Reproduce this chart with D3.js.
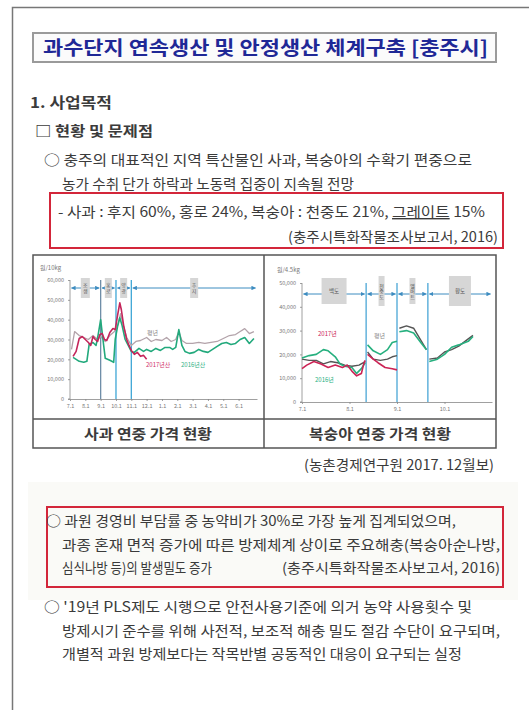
<!DOCTYPE html>
<html><head><meta charset="utf-8">
<script src="https://cdn.jsdelivr.net/npm/d3@7"></script>
<style>
html,body{margin:0;padding:0;background:#fff;}
svg{display:block;}
text{font-family:"Noto Sans CJK KR","Noto Sans",sans-serif;}
</style></head><body>
<svg id="c" width="529" height="710"></svg>
<script>
// ---------- text content ----------
const titleText = "과수단지 연속생산 및 안정생산 체계구축 [충주시]";
const headingText = "1. 사업목적";
const subHeadingText = "□ 현황 및 문제점";
const para1 = ["○ 충주의 대표적인 지역 특산물인 사과, 복숭아의 수확기 편중으로",
               "농가 수취 단가 하락과 노동력 집중이 지속될 전망"];
const boxNote1 = "- 사과 : 후지 60%, 홍로 24%, 복숭아 : 천중도 21%, ";
const boxNote1U = "그레이트";
const boxNote1End = " 15%";
const sourceText = "(충주시특화작물조사보고서, 2016)";
const captions = ["사과 연중 가격 현황", "복숭아 연중 가격 현황"];
const chartSource = "(농촌경제연구원 2017. 12월보)";
const para2 = ["○ 과원 경영비 부담률 중 농약비가 30%로 가장 높게 집계되었으며,",
               "과종 혼재 면적 증가에 따른 방제체계 상이로 주요해충(복숭아순나방,",
               "심식나방 등)의 발생밀도 증가"];
const para3 = ["○ '19년 PLS제도 시행으로 안전사용기준에 의거 농약 사용횟수 및",
               "방제시기 준수를 위해 사전적, 보조적 해충 밀도 절감 수단이 요구되며,",
               "개별적 과원 방제보다는 작목반별 공동적인 대응이 요구되는 실정"];

// ---------- apple chart data (x = months after 7.1) ----------
const appleTickLabels = ["7.1","8.1","9.1","10.1","11.1","12.1","1.1","2.1","3.1","4.1","5.1","6.1"];
const appleYTicks = [0,10000,20000,30000,40000,50000,60000];
const appleStageBounds = [0,2,3,4,12.2];
const appleStageNames = ["조생","홍로","양광","후지"];
const appleBreaks = [2,3,4];
const apple2017 = [[0.2,21500],[0.4,24000],[0.6,30500],[0.8,31500],[1.0,30000],[1.2,28500],[1.35,27000],[1.5,31500],[1.65,30000],[1.8,29000],[1.95,32500],[2.1,33000],[2.25,30000],[2.4,29500],[2.6,33500],[2.8,35500],[2.95,35000],[3.1,42000],[3.25,48500],[3.35,45000],[3.5,37000],[3.7,30000],[3.85,27000],[4.0,24500],[4.2,22500],[4.4,23500],[4.6,21500],[4.8,22000],[5.0,20000]];
const apple2016 = [[0.2,21000],[0.4,20000],[0.6,19000],[0.9,18500],[1.1,19000],[1.25,27500],[1.5,28500],[1.7,27000],[1.85,33000],[2.0,40000],[2.15,30000],[2.3,20500],[2.6,19500],[2.85,18500],[2.95,30000],[3.1,36500],[3.25,41000],[3.4,37000],[3.6,30000],[3.8,27000],[4.0,24000],[4.2,23500],[4.5,25500],[4.8,24000],[5.0,25000],[5.3,24000],[5.6,25500],[5.9,24500],[6.2,26000],[6.5,26000],[6.7,25000],[6.9,26000],[7.1,35000],[7.3,27000],[7.5,24000],[7.8,23000],[8.1,23500],[8.4,25000],[8.7,24000],[9.0,23500],[9.3,25000],[9.6,26500],[9.9,28000],[10.2,28500],[10.5,27500],[10.8,28000],[11.1,30000],[11.4,31000],[11.7,28000],[12.0,30500]];
const appleNormal = [[0.1,25000],[0.3,34000],[0.6,32000],[0.9,31000],[1.2,30000],[1.5,32000],[1.8,30000],[2.0,31500],[2.3,29000],[2.6,32000],[2.9,34000],[3.1,37000],[3.3,43000],[3.45,38000],[3.7,31000],[4.0,27000],[4.3,29000],[4.6,29500],[5.0,31000],[5.3,29000],[5.6,30000],[6.0,29500],[6.3,31000],[6.6,29000],[6.9,30000],[7.1,34000],[7.3,29500],[7.6,28000],[8.0,28000],[8.4,28500],[8.8,28000],[9.2,28500],[9.6,29000],[10.0,30500],[10.4,32000],[10.8,32500],[11.1,34000],[11.4,35500],[11.7,33000],[12.0,34000]];

// ---------- peach chart data (x = months after 7.1) ----------
const peachTickLabels = ["7.1","8.1","9.1","10.1"];
const peachYTicks = [0,10000,20000,30000,40000,50000];
const peachStageBounds = [0,1.35,2.0,2.65,4];
const peachStageNames = ["백도","천중도","엘버트","황도"];
const peachBreaks = [1.35,2.0,2.65];
const peach2017 = [[0,14000],[0.1,15500],[0.25,17000],[0.4,16000],[0.55,14500],[0.7,15500],[0.85,14500],[0.95,15500],[1.05,13000],[1.15,11000],[1.25,12000],[1.3,16000],[1.33,17500],[1.35,null],[1.38,20000],[1.5,18000],[1.6,16500],[1.75,14500],[1.9,14000],[2.0,13500]];
const peach2016 = [[0,18500],[0.15,19500],[0.3,20000],[0.45,22000],[0.55,21500],[0.7,19000],[0.8,16000],[0.9,15000],[1.05,14500],[1.15,12000],[1.25,14000],[1.33,16500],[1.35,null],[1.38,24000],[1.5,21500],[1.65,20000],[1.8,22000],[1.9,25000],[2.0,25500],[2.02,null],[2.05,29500],[2.2,30000],[2.35,29000],[2.5,25000],[2.62,22000],[2.65,null],[2.68,17000],[2.85,18000],[3.0,20000],[3.15,23000],[3.3,24000],[3.5,25500],[3.6,27500]];
const peachNormal = [[0,18000],[0.15,17500],[0.3,17500],[0.45,16000],[0.6,17000],[0.75,16500],[0.9,15500],[1.05,15000],[1.2,15500],[1.33,17000],[1.35,null],[1.38,21000],[1.5,18000],[1.65,17500],[1.8,18000],[1.9,19000],[2.0,19500],[2.02,null],[2.05,31000],[2.2,32000],[2.35,31000],[2.5,26000],[2.62,22000],[2.65,null],[2.68,18000],[2.85,18500],[3.0,21000],[3.15,22000],[3.3,23500],[3.5,26500],[3.6,28000]];

// ---------- drawing ----------
const svg = d3.select("#c");
const TXT = "#3b3b3b";
const RED = "#d3263a";

svg.append("rect").attr("width",529).attr("height",710).attr("fill","#fff");
// faint scan band
svg.append("rect").attr("x",28).attr("y",482).attr("width",490).attr("height",118).attr("fill","#fafaf7");

// page frame
svg.append("path").attr("d","M12.5,710 V7.5 H529").attr("fill","none").attr("stroke","#777").attr("stroke-width",1.5);

// title box
svg.append("rect").attr("x",33).attr("y",33).attr("width",463).attr("height",29)
  .attr("fill","#fbfbfb").attr("stroke","#9a9a9a").attr("stroke-width",2);
svg.append("text").attr("x",43).attr("y",54.5).text(titleText)
  .attr("font-size",19).attr("font-weight","bold").attr("fill","#1f2896")
  .attr("textLength",445).attr("lengthAdjust","spacingAndGlyphs");

function line(x,y,str,opt={}){
  const t = svg.append("text").attr("x",x).attr("y",y).text(str)
    .attr("font-size",opt.size||14).attr("fill",opt.fill||TXT);
  if(opt.bold) t.attr("font-weight","bold");
  if(opt.len) t.attr("textLength",opt.len).attr("lengthAdjust","spacingAndGlyphs");
  if(opt.anchor) t.attr("text-anchor",opt.anchor);
  return t;
}
line(30,108,headingText,{bold:true,size:14.5,len:82});
line(35,136,subHeadingText,{bold:true,size:14,len:118});
line(44,165,para1[0],{len:428});
line(62,189,para1[1],{len:292});

// red box 1
svg.append("rect").attr("x",50).attr("y",193).attr("width",453).attr("height",55)
  .attr("fill","none").attr("stroke",RED).attr("stroke-width",2);
const t1 = svg.append("text").attr("x",58).attr("y",217).attr("font-size",14).attr("fill",TXT)
  .attr("textLength",427).attr("lengthAdjust","spacingAndGlyphs");
t1.append("tspan").text(boxNote1);
t1.append("tspan").text(boxNote1U).attr("text-decoration","underline");
t1.append("tspan").text(boxNote1End);
line(498,242,sourceText,{anchor:"end",len:210});

// table frame for charts
const tbl = {x:33,y:255,w:463,h:193,split:264,capY:419};
svg.append("rect").attr("x",tbl.x).attr("y",tbl.y).attr("width",tbl.w).attr("height",tbl.h)
  .attr("fill","none").attr("stroke","#555").attr("stroke-width",1.5);
svg.append("line").attr("x1",tbl.split).attr("x2",tbl.split).attr("y1",tbl.y).attr("y2",tbl.y+tbl.h).attr("stroke","#555").attr("stroke-width",1.5);
svg.append("line").attr("x1",tbl.x).attr("x2",tbl.x+tbl.w).attr("y1",tbl.capY).attr("y2",tbl.capY).attr("stroke","#555").attr("stroke-width",1.5);
line(148,439,captions[0],{anchor:"middle",bold:true,size:14,len:128});
line(380,439,captions[1],{anchor:"middle",bold:true,size:14,len:142});
line(494,470,chartSource,{anchor:"end",len:190});

// arrow markers
const defs = svg.append("defs");
defs.append("marker").attr("id","ah").attr("viewBox","0 0 10 10").attr("refX",9).attr("refY",5)
  .attr("markerWidth",4.5).attr("markerHeight",4.5).attr("orient","auto-start-reverse")
  .append("path").attr("d","M0,0 L10,5 L0,10 z").attr("fill","#3d8cc0");

function drawChart(o){
  const g = svg.append("g");
  const x = d3.scaleLinear().domain(o.xDomain).range(o.xRange);
  const y = d3.scaleLinear().domain(o.yDomain).range(o.yRange);
  g.append("text").attr("x",o.unitPos[0]).attr("y",o.unitPos[1]).text(o.unit)
    .attr("font-size",6).attr("fill","#777");
  const ya = g.append("g").attr("transform",`translate(${o.xRange[0]},0)`)
    .call(d3.axisLeft(y).tickValues(o.yTicks).tickFormat(d3.format(",")).tickSize(2).tickPadding(4));
  const xa = g.append("g").attr("transform",`translate(0,${o.yRange[0]})`)
    .call(d3.axisBottom(x).tickValues(d3.range(o.xLabels.length)).tickFormat((d,i)=>o.xLabels[i]).tickSize(2).tickPadding(3).tickSizeOuter(0));
  [ya,xa].forEach(a=>{
    a.selectAll("path,line").attr("stroke","#888").attr("stroke-width",0.8);
    a.selectAll("text").attr("font-size",5.5).attr("fill","#777").attr("font-family","'Noto Sans',sans-serif");
  });
  ya.select(".domain").attr("d",`M-2,${o.yRange[0]}H0V${o.yRange[1]}`);
  o.breaks.forEach((b,i)=>{
    g.append("line").attr("x1",x(b)).attr("x2",x(b)).attr("y1",o.yRange[1]).attr("y2",o.yRange[0])
      .attr("stroke",o.breakColors[i]).attr("stroke-width",1.3);
  });
  for(let i=0;i<o.stageBounds.length-1;i++){
    const a=x(o.stageBounds[i])+1.5, b=x(o.stageBounds[i+1])-1.5;
    g.append("line").attr("x1",a).attr("x2",b).attr("y1",o.arrowY).attr("y2",o.arrowY)
      .attr("stroke","#3d8cc0").attr("stroke-width",1)
      .attr("marker-start","url(#ah)").attr("marker-end","url(#ah)");
    const cx=(x(o.stageBounds[i])+x(o.stageBounds[i+1]))/2;
    const bw=o.boxSize[i][0], bh=o.boxSize[i][1];
    g.append("rect").attr("x",cx-bw/2).attr("y",o.arrowY-bh/2+o.boxShift).attr("width",bw).attr("height",bh)
      .attr("fill","#d6d6d6");
    const name=o.stageNames[i];
    if(o.vertical[i]){
      const chars=[...name];
      const step=5.5;
      chars.forEach((c,k)=>{
        g.append("text").attr("x",cx).attr("y",o.arrowY+o.boxShift-(chars.length-1)*step/2+k*step+2)
          .attr("text-anchor","middle").attr("font-size",5).attr("fill","#555").text(c);
      });
    } else {
      g.append("text").attr("x",cx).attr("y",o.arrowY+o.boxShift+2).attr("text-anchor","middle")
        .attr("font-size",5.5).attr("fill","#555").text(name);
    }
  }
  const ln = d3.line().defined(d=>d[1]!=null).x(d=>x(d[0])).y(d=>y(d[1]));
  o.series.forEach(s=>{
    g.append("path").datum(s.data).attr("d",ln).attr("fill","none")
      .attr("stroke",s.color).attr("stroke-width",s.w||1.4).attr("stroke-linejoin","round");
  });
  o.labels.forEach(l=>{
    g.append("text").attr("x",l.x).attr("y",l.y).text(l.t).attr("font-size",6).attr("fill",l.c);
  });
}

drawChart({
  xDomain:[0,12.2], xRange:[70,257], yDomain:[0,60000], yRange:[399,280],
  unit:"원/10kg", unitPos:[40,270],
  yTicks:appleYTicks, xLabels:appleTickLabels,
  breaks:appleBreaks, breakColors:["#6f8ea8","#3ea6d6","#3ea6d6"],
  stageBounds:appleStageBounds, stageNames:appleStageNames, arrowY:288, boxShift:0,
  boxSize:[[9,20],[7,20],[7,20],[8,20]], vertical:[true,true,true,true],
  series:[
    {data:appleNormal,color:"#b3a3aa",w:1.3},
    {data:apple2016,color:"#22a97c",w:1.6},
    {data:apple2017,color:"#c4255a",w:1.6}
  ],
  labels:[{x:147,y:335,t:"평년",c:"#888"},{x:146,y:367,t:"2017년산",c:"#d0306a"},{x:181,y:367,t:"2016년산",c:"#2fb184"}]
});

drawChart({
  xDomain:[0,4], xRange:[302,492], yDomain:[0,50000], yRange:[402,283],
  unit:"원/4.5kg", unitPos:[277,272],
  yTicks:peachYTicks, xLabels:peachTickLabels,
  breaks:peachBreaks, breakColors:["#4aa6d6","#4aa6d6","#4aa6d6"],
  stageBounds:peachStageBounds, stageNames:peachStageNames, arrowY:294, boxShift:-3,
  boxSize:[[25,26],[6,30],[6,26],[22,30]], vertical:[false,true,true,false],
  series:[
    {data:peachNormal,color:"#555",w:1.4},
    {data:peach2016,color:"#27b07f",w:1.6},
    {data:peach2017,color:"#cc2456",w:1.6}
  ],
  labels:[{x:318,y:336,t:"2017년",c:"#cc2456"},{x:374,y:338,t:"평년",c:"#888"},{x:315,y:382,t:"2016년",c:"#27b07f"}]
});

// red box 2
svg.append("rect").attr("x",47).attr("y",507).attr("width",456).attr("height",80)
  .attr("fill","none").attr("stroke",RED).attr("stroke-width",2);
line(46,526,para2[0],{len:410});
line(62,550,para2[1],{len:438});
line(62,573,para2[2],{len:150});
line(500,573,sourceText,{anchor:"end",len:218});

line(44,612,para3[0],{len:428});
line(62,636,para3[1],{len:438});
line(62,659,para3[2],{len:400});
</script></body></html>
